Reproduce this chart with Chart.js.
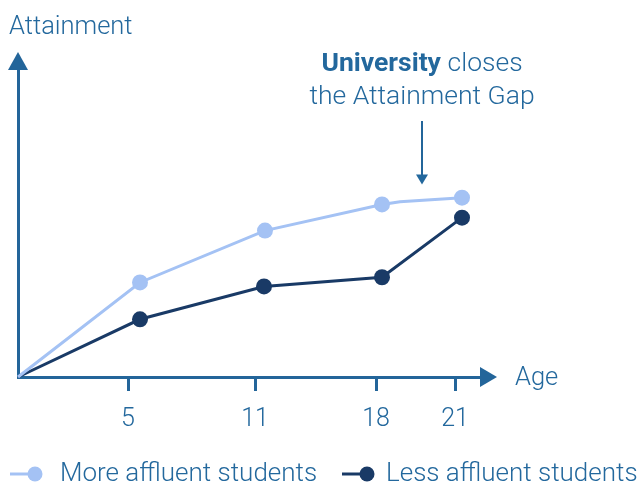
<!DOCTYPE html>
<html>
<head>
<meta charset="utf-8">
<script src="https://cdn.jsdelivr.net/npm/chart.js@4/dist/chart.umd.min.js"></script>
<style>
  html, body { margin: 0; padding: 0; background: #fff; }
  #wrap { width: 638px; height: 488px; }
</style>
</head>
<body>
<div id="wrap"><canvas id="gapChart" width="638" height="488"></canvas></div>
<script>
// Age stages along the x axis (x values are stage positions, labels are ages)
const ageLabels = ['5', '11', '18', '21'];
const agePos = [1.10, 2.37, 3.58, 4.37];

// Series: x position along the age axis, y attainment
const affluentX = [0, 1.22, 2.47, 3.64, 3.82, 4.44];
const affluentY = [0, 30.8, 47.7, 56.2, 57.1, 58.4];
const affluentDots = [0, 1, 1, 1, 0, 1];

const lessX = [0, 1.22, 2.46, 3.64, 4.44];
const lessY = [0, 18.8, 29.5, 32.5, 51.9];
const lessDots = [0, 1, 1, 1, 1];

const AXIS = '#23659a';
const TEXT = '#23689d';
const LIGHT = '#a4c2f4';
const DARK = '#193a66';
const FONT = 'Roboto, "Liberation Sans", sans-serif';

const toPoints = (xs, ys) => xs.map((x, i) => ({ x, y: ys[i] }));

function arrowHead(ctx, x, y, dir, len, half) {
  ctx.beginPath();
  if (dir === 'up') { ctx.moveTo(x, y); ctx.lineTo(x - half, y + len); ctx.lineTo(x + half, y + len); }
  if (dir === 'right') { ctx.moveTo(x, y); ctx.lineTo(x - len, y - half); ctx.lineTo(x - len, y + half); }
  if (dir === 'down') { ctx.moveTo(x, y); ctx.lineTo(x - half, y - len); ctx.lineTo(x + half, y - len); }
  ctx.closePath();
  ctx.fill();
}

// legend entries: where each marker starts and how far its text sits from it
const legendSlots = [{ x: 10, text: 50 }, { x: 342, text: 44 }];

// axis arrows, axis names, the university note and a line+dot legend
const decorations = {
  id: 'decorations',
  afterDraw(chart) {
    const { ctx, chartArea: a, scales } = chart;
    ctx.save();
    ctx.fillStyle = AXIS;
    arrowHead(ctx, a.left, a.top - 18, 'up', 18, 10);
    arrowHead(ctx, a.right + 15, a.bottom, 'right', 17, 10);

    ctx.fillStyle = TEXT;
    ctx.textBaseline = 'middle';
    ctx.font = '300 25.5px ' + FONT;
    ctx.textAlign = 'left';
    ctx.fillText('Attainment', 9, 28);
    ctx.fillText('Age', a.right + 33, a.bottom + 2);

    // note over the last stage
    const nx = scales.x.getPixelForValue(4.04);
    ctx.font = 'bold 26.5px ' + FONT;
    const w1 = ctx.measureText('University ').width;
    ctx.font = '300 26.5px ' + FONT;
    const w2 = ctx.measureText('closes').width;
    const sx = nx - (w1 + w2) / 2;
    ctx.font = 'bold 26.5px ' + FONT;
    ctx.fillText('University ', sx, 64);
    ctx.font = '300 26.5px ' + FONT;
    ctx.fillText('closes', sx + w1, 64);
    ctx.textAlign = 'center';
    ctx.fillText('the Attainment Gap', nx, 97);

    const y0 = scales.y.getPixelForValue(83.4);
    const y1 = scales.y.getPixelForValue(62.7);
    ctx.strokeStyle = AXIS;
    ctx.lineWidth = 2;
    ctx.beginPath(); ctx.moveTo(nx, y0); ctx.lineTo(nx, y1 - 8); ctx.stroke();
    arrowHead(ctx, nx, y1, 'down', 10, 6);

    // legend: short line with a dot, then the series name
    ctx.font = '300 26px ' + FONT;
    ctx.textAlign = 'left';
    const ly = 474;
    chart.data.datasets.forEach((ds, i) => {
      const lx = legendSlots[i].x;
      ctx.strokeStyle = ds.borderColor;
      ctx.fillStyle = ds.borderColor;
      ctx.lineWidth = 3;
      ctx.beginPath(); ctx.moveTo(lx, ly); ctx.lineTo(lx + 22, ly); ctx.stroke();
      ctx.beginPath(); ctx.arc(lx + 25, ly, 7.5, 0, Math.PI * 2); ctx.fill();
      ctx.fillStyle = TEXT;
      ctx.fillText(ds.label, lx + legendSlots[i].text, ly);
    });
    ctx.restore();
  }
};

new Chart(document.getElementById('gapChart'), {
  type: 'line',
  data: {
    datasets: [
      {
        label: 'More affluent students',
        data: toPoints(affluentX, affluentY),
        borderColor: LIGHT,
        backgroundColor: LIGHT,
        borderWidth: 3,
        pointRadius: affluentDots.map(d => d ? 8 : 0),
        pointBorderWidth: 0,
        tension: 0
      },
      {
        label: 'Less affluent students',
        data: toPoints(lessX, lessY),
        borderColor: DARK,
        backgroundColor: DARK,
        borderWidth: 3,
        pointRadius: lessDots.map(d => d ? 8 : 0),
        pointBorderWidth: 0,
        tension: 0
      }
    ]
  },
  options: {
    responsive: false,
    animation: false,
    clip: false,
    layout: { padding: { left: 18, right: 156, top: 70, bottom: 39 } },
    scales: {
      x: {
        type: 'linear',
        min: 0,
        max: 4.64,
        afterBuildTicks: (scale) => { scale.ticks = agePos.map(v => ({ value: v })); },
        ticks: {
          autoSkip: false,
          maxRotation: 0,
          padding: 14,
          color: TEXT,
          font: { family: FONT, size: 25, weight: '300' },
          callback: (v) => ageLabels[agePos.indexOf(v)]
        },
        grid: { drawOnChartArea: false, drawTicks: true, tickLength: 14, tickWidth: 3, tickColor: AXIS, color: AXIS },
        border: { display: true, color: AXIS, width: 3 }
      },
      y: {
        min: 0,
        max: 100,
        afterFit: (scale) => { scale.width = 0; },
        ticks: { display: false },
        grid: { display: false },
        border: { display: true, color: AXIS, width: 3 }
      }
    },
    plugins: {
      legend: { display: false },
      tooltip: { enabled: false }
    }
  },
  plugins: [decorations]
});
</script>
</body>
</html>
